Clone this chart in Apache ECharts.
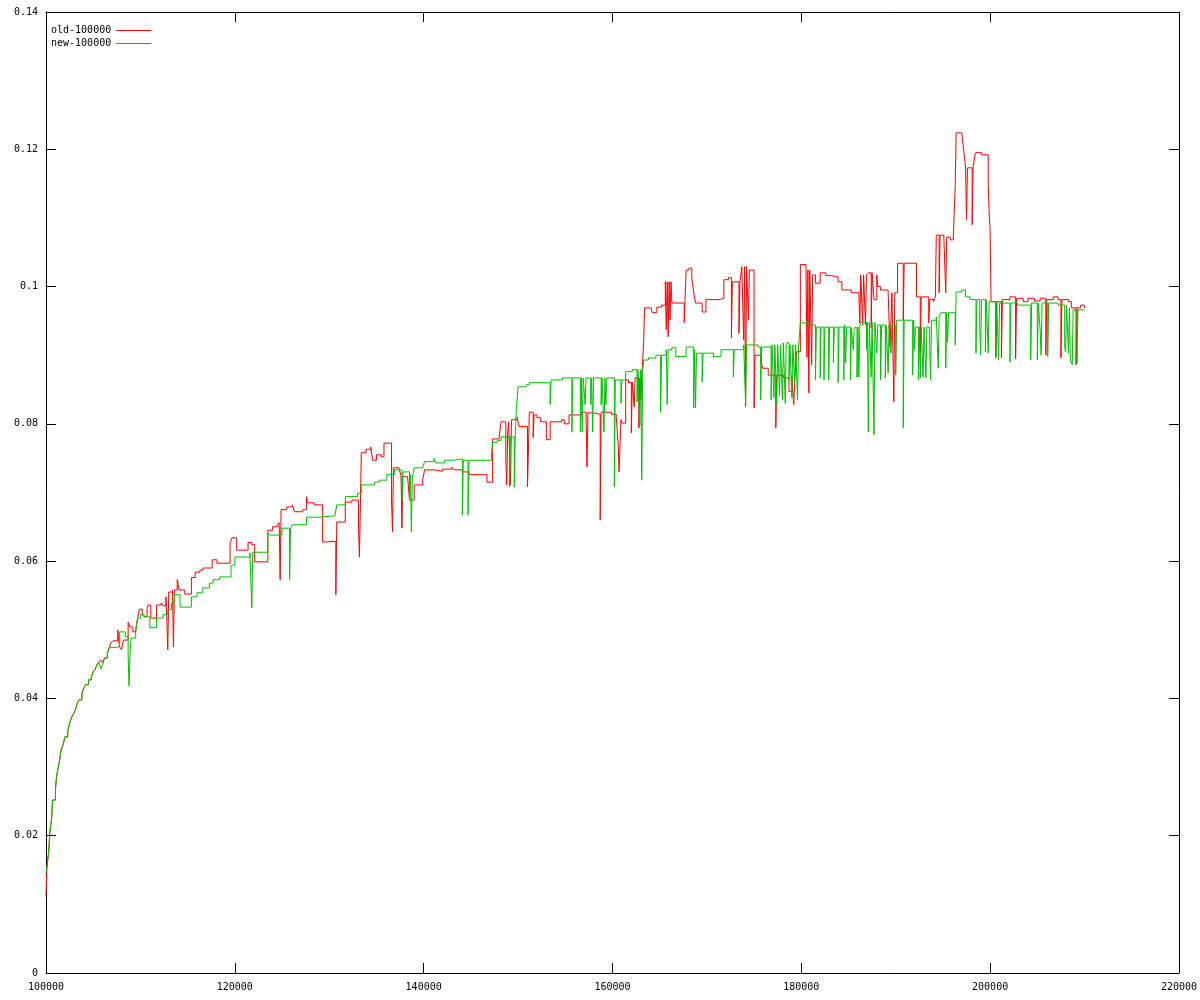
<!DOCTYPE html>
<html>
<head>
<meta charset="utf-8">
<script src="https://cdn.jsdelivr.net/npm/echarts@6/dist/echarts.min.js"></script>
<style>
  html, body { margin: 0; padding: 0; background: #ffffff; }
  #chart { width: 1200px; height: 1000px; }
</style>
</head>
<body>
<div id="chart"></div>
<script>
// ---- data (x, value from x onward) ----
const seriesNames = ['old-100000', 'new-100000'];
const xTickLabels = ['100000', '120000', '140000', '160000', '180000', '200000', '220000'];
const yTickLabels = ['0', '0.02', '0.04', '0.06', '0.08', '0.1', '0.12', '0.14'];

const oldValues = [
  [100000,0.0111],[100100,0.0154],[100300,0.0179],[100400,0.0204],[100600,0.0226],[100700,0.0252],
  [101000,0.0267],[101100,0.0284],[101200,0.0293],[101400,0.0306],[101600,0.0325],[101800,0.0332],
  [102000,0.0344],[102300,0.0351],[102500,0.0364],[102700,0.0372],[102900,0.0377],[103100,0.0383],
  [103300,0.0393],[103500,0.0398],[103800,0.0407],[104000,0.0415],[104200,0.0420],[104500,0.0427],
  [104800,0.0431],[105000,0.0439],[105200,0.0442],[105400,0.0449],[105600,0.0453],[105800,0.0456],
  [106000,0.0452],[106200,0.0459],[106500,0.0466],[106700,0.0474],[106900,0.0481],[107100,0.0484],
  [107600,0.0500],[107700,0.0484],[107800,0.0475],[108000,0.0471],[108200,0.0485],[108700,0.0511],
  [108900,0.0504],[109200,0.0497],[109500,0.0500],[109700,0.0517],[109900,0.0530],[110200,0.0522],
  [110400,0.0519],[110700,0.0530],[110800,0.0536],[111100,0.0517],[111700,0.0536],[112200,0.0539],
  [112400,0.0535],[112700,0.0548],[112800,0.0514],[112900,0.0471],[113000,0.0555],[113400,0.0558],
  [113500,0.0475],[113600,0.0558],[113900,0.0573],[114100,0.0558],[114700,0.0552],[115400,0.0576],
  [115800,0.0584],[116300,0.0587],[116600,0.0590],[117600,0.0602],[118100,0.0597],[119500,0.0627],
  [119700,0.0634],[120200,0.0616],[121400,0.0627],[121800,0.0624],[122100,0.0599],[123500,0.0645],
  [124000,0.0650],[124500,0.0653],[124700,0.0656],[124800,0.0573],[124900,0.0675],[125500,0.0679],
  [126100,0.0682],[126300,0.0672],[127200,0.0675],[127600,0.0694],[127700,0.0685],[128400,0.0682],
  [129300,0.0628],[129800,0.0629],[130700,0.0551],[130800,0.0657],[131700,0.0686],[132400,0.0689],
  [133100,0.0648],[133200,0.0606],[133400,0.0758],[133900,0.0763],[134400,0.0766],[134600,0.0747],
  [135000,0.0755],[135500,0.0752],[135800,0.0772],[136600,0.0689],[136700,0.0643],[136800,0.0736],
  [137400,0.0733],[137600,0.0726],[137700,0.0648],[137800,0.0723],[138300,0.0721],[138500,0.0689],
  [139000,0.0711],[139900,0.0718],[140100,0.0733],[141100,0.0731],[142000,0.0734],[143000,0.0737],
  [143200,0.0733],[144100,0.0730],[144800,0.0726],[146700,0.0715],[147300,0.0778],[148000,0.0781],
  [148200,0.0803],[148700,0.0752],[148800,0.0711],[148900,0.0788],[149000,0.0803],[149200,0.0711],
  [149300,0.0806],[149900,0.0810],[150100,0.0796],[151000,0.0708],[151200,0.0817],[151600,0.0780],
  [151700,0.0813],[152000,0.0809],[152400,0.0803],[153000,0.0777],[153400,0.0803],[154600,0.0806],
  [154900,0.0800],[155400,0.0813],[156700,0.0817],[157200,0.0813],[157300,0.0737],[157400,0.0816],
  [158000,0.0814],[158700,0.0660],[158800,0.0817],[159900,0.0814],[160400,0.0810],[160600,0.0772],
  [160700,0.0730],[160900,0.0806],[161000,0.0801],[161400,0.0864],[161700,0.0860],[162000,0.0787],
  [162100,0.0861],[162300,0.0825],[162400,0.0867],[162800,0.0794],[162900,0.0867],[163000,0.0835],
  [163100,0.0867],[163300,0.0918],[163400,0.0969],[164100,0.0970],[164200,0.0962],[164700,0.0970],
  [165200,0.0973],[165600,0.1007],[165700,0.0937],[165800,0.1007],[165900,0.0927],[166000,0.1007],
  [166100,0.0951],[166200,0.1007],[166300,0.0976],[167600,0.0947],[167800,0.1024],[168100,0.1027],
  [168400,0.1013],[168600,0.0992],[168800,0.0976],[169500,0.0963],[169900,0.0981],[171300,0.0983],
  [171800,0.1010],[172300,0.1013],[172600,0.0925],[172700,0.1007],[173400,0.0932],[173500,0.1007],
  [173700,0.1029],[173900,0.0922],[174000,0.1029],[174100,0.0825],[174200,0.1029],[174400,0.0951],
  [174500,0.1024],[175000,0.0823],[175100,0.0900],[175700,0.0893],[175900,0.0881],[176500,0.0871],
  [177300,0.0794],[177400,0.0871],[178100,0.0867],[178700,0.0847],[179000,0.0870],[179200,0.0828],
  [179300,0.0864],[179500,0.0905],[179900,0.1032],[180500,0.1024],[180600,0.0897],[180700,0.1024],
  [180800,0.0845],[180900,0.1024],[181100,0.0886],[181200,0.1017],[181500,0.1005],[182000,0.1020],
  [182600,0.1016],[183200,0.1014],[183900,0.1007],[184300,0.0995],[185300,0.0991],[186100,0.0988],
  [186200,0.0947],[186300,0.1017],[186500,0.0944],[186600,0.1017],[186800,0.0944],[186900,0.1017],
  [187100,0.1020],[187400,0.0940],[187500,0.1020],[187700,0.0981],[188000,0.1017],[188100,0.1000],
  [188400,0.0995],[189200,0.0991],[189300,0.0951],[189400,0.0912],[189600,0.0991],[189800,0.0832],
  [189900,0.0991],[190200,0.1034],[190800,0.0951],[190900,0.1034],[192200,0.0985],[192600,0.0903],
  [192700,0.0985],[193500,0.0947],[193600,0.0981],[194000,0.0978],[194200,0.0985],[194300,0.1075],
  [194600,0.0991],[194700,0.1075],[195100,0.1072],[195300,0.0991],[195400,0.1072],[195800,0.1068],
  [196100,0.1072],[196300,0.1144],[196400,0.1224],[197000,0.1225],[197200,0.1199],[197400,0.1174],
  [197500,0.1097],[197600,0.1173],[198100,0.1090],[198200,0.1174],[198400,0.1192],[198500,0.1195],
  [199100,0.1192],[199800,0.1151],[199900,0.1107],[200000,0.1083],[200100,0.0978],[200600,0.0897],
  [200700,0.0978],[201200,0.0896],[201300,0.0981],[202100,0.0985],[202700,0.0895],[202800,0.0983],
  [203500,0.0978],[204000,0.0983],[204700,0.0979],[205300,0.0983],[205900,0.0900],[206000,0.0981],
  [206700,0.0985],[207200,0.0981],[207500,0.0896],[207600,0.0981],[208300,0.0978],[208600,0.0969],
  [209100,0.0886],[209200,0.0969],[209600,0.0973],[210000,0.0969]
];

const newValues = [
  [100000,0.0146],[100100,0.0154],[100300,0.0179],[100400,0.0204],[100600,0.0226],[100700,0.0252],
  [101000,0.0267],[101100,0.0284],[101200,0.0293],[101400,0.0306],[101600,0.0325],[101800,0.0332],
  [102000,0.0344],[102300,0.0351],[102500,0.0364],[102700,0.0372],[102900,0.0377],[103100,0.0383],
  [103300,0.0393],[103500,0.0398],[103800,0.0407],[104000,0.0415],[104200,0.0420],[104500,0.0427],
  [104800,0.0431],[105000,0.0439],[105200,0.0442],[105400,0.0449],[105600,0.0453],[105800,0.0443],
  [106000,0.0449],[106200,0.0459],[106500,0.0466],[106700,0.0474],[107000,0.0475],[107800,0.0497],
  [108400,0.0490],[108700,0.0463],[108800,0.0418],[108900,0.0463],[109000,0.0488],[109500,0.0497],
  [109700,0.0517],[110000,0.0522],[110400,0.0519],[111000,0.0503],[111700,0.0517],[112400,0.0522],
  [112900,0.0529],[113300,0.0539],[113600,0.0551],[114200,0.0533],[115400,0.0548],[116000,0.0554],
  [116600,0.0561],[117300,0.0568],[117700,0.0573],[118400,0.0577],[119600,0.0594],[120000,0.0606],
  [121600,0.0612],[121800,0.0532],[121900,0.0613],[123500,0.0641],[123700,0.0638],[125000,0.0648],
  [125800,0.0573],[125900,0.0648],[126100,0.0653],[127600,0.0664],[129000,0.0666],[130600,0.0667],
  [130800,0.0682],[131700,0.0694],[133000,0.0699],[133400,0.0711],[134800,0.0715],[135300,0.0718],
  [136100,0.0726],[136900,0.0733],[137700,0.0689],[137800,0.0730],[138500,0.0689],[138600,0.0726],
  [138700,0.0643],[138800,0.0721],[139000,0.0736],[139900,0.0737],[140100,0.0745],[141100,0.0750],
  [141300,0.0743],[142200,0.0747],[143200,0.0749],[144100,0.0667],[144200,0.0747],[144700,0.0667],
  [144800,0.0747],[147200,0.0758],[147300,0.0773],[147800,0.0776],[148200,0.0781],[149100,0.0708],
  [149200,0.0781],[149600,0.0708],[149700,0.0781],[149800,0.0816],[150000,0.0854],[150900,0.0857],
  [151200,0.0860],[153400,0.0828],[153500,0.0864],[154700,0.0867],[155700,0.0788],[155800,0.0867],
  [156600,0.0788],[156700,0.0867],[156800,0.0788],[156900,0.0867],[157100,0.0828],[157200,0.0867],
  [157700,0.0828],[157800,0.0867],[157900,0.0788],[158000,0.0867],[158800,0.0828],[158900,0.0867],
  [159100,0.0788],[159200,0.0867],[159300,0.0828],[159400,0.0867],[160200,0.0708],[160300,0.0864],
  [160900,0.0830],[161000,0.0864],[161400,0.0876],[162100,0.0879],[162600,0.0832],[162700,0.0879],
  [162900,0.0798],[163000,0.0879],[163100,0.0718],[163200,0.0876],[163300,0.0893],[163800,0.0896],
  [164600,0.0900],[165100,0.0817],[165200,0.0900],[165700,0.0908],[165800,0.0828],[165900,0.0908],
  [166300,0.0911],[166700,0.0898],[167800,0.0912],[168600,0.0823],[168700,0.0908],[168800,0.0823],
  [168900,0.0903],[169500,0.0861],[169600,0.0903],[170700,0.0898],[171500,0.0908],[172800,0.0868],
  [172900,0.0908],[173900,0.0915],[174100,0.0830],[174200,0.0915],[175400,0.0912],[175700,0.0835],
  [175800,0.0912],[176800,0.0835],[176900,0.0915],[177100,0.0838],[177200,0.0915],[177400,0.0828],
  [177500,0.0915],[177700,0.0841],[177800,0.0915],[178000,0.0835],[178100,0.0918],[178300,0.0830],
  [178400,0.0918],[178700,0.0864],[178800,0.0915],[179000,0.0838],[179100,0.0915],[179300,0.0861],
  [179400,0.0915],[179600,0.0835],[179700,0.0911],[179900,0.0947],[180800,0.0944],[181500,0.0864],
  [181600,0.0941],[182000,0.0867],[182100,0.0941],[182400,0.0864],[182500,0.0941],[182900,0.0864],
  [183000,0.0941],[183400,0.0889],[183500,0.0941],[183900,0.0860],[184000,0.0941],[184500,0.0864],
  [184600,0.0944],[184700,0.0889],[184800,0.0941],[185200,0.0864],[185300,0.0940],[185500,0.0908],
  [185600,0.0940],[185900,0.0868],[186000,0.0941],[186100,0.0868],[186200,0.0941],[186300,0.0948],
  [186900,0.0908],[187000,0.0948],[187100,0.0788],[187200,0.0948],[187400,0.0868],[187500,0.0948],
  [187700,0.0784],[187800,0.0948],[188000,0.0903],[188100,0.0944],[188400,0.0864],[188500,0.0944],
  [188900,0.0867],[189000,0.0944],[189200,0.0874],[189300,0.0944],[189500,0.0903],[189600,0.0944],
  [190000,0.0871],[190100,0.0951],[190800,0.0794],[190900,0.0951],[191800,0.0871],[191900,0.0951],
  [192000,0.0908],[192100,0.0941],[192400,0.0864],[192500,0.0941],[192600,0.0867],[192700,0.0941],
  [192900,0.0868],[193000,0.0941],[193200,0.0867],[193300,0.0941],[193600,0.0908],[193700,0.0864],
  [193800,0.0951],[194300,0.0956],[194500,0.0881],[194600,0.0956],[194800,0.0962],[195300,0.0881],
  [195400,0.0962],[195500,0.0919],[195600,0.0962],[196300,0.0915],[196400,0.0992],[197000,0.0995],
  [197400,0.0985],[197900,0.0981],[198500,0.0903],[198600,0.0981],[198900,0.0940],[199000,0.0900],
  [199100,0.0981],[199500,0.0905],[199600,0.0981],[199800,0.0903],[199900,0.0978],[200600,0.0896],
  [200700,0.0978],[200900,0.0893],[201000,0.0976],[202100,0.0890],[202200,0.0976],[202900,0.0973],
  [204300,0.0893],[204400,0.0976],[205000,0.0893],[205100,0.0976],[205300,0.0937],[205400,0.0900],
  [205500,0.0976],[206100,0.0898],[206200,0.0976],[207200,0.0973],[207900,0.0911],[208000,0.0905],
  [208100,0.0973],[208300,0.0903],[208400,0.0969],[208500,0.0893],[208700,0.0886],[208800,0.0966],
  [209200,0.0888],[209300,0.0966],[210000,0.0966]
];

// ---- chart ----
const chart = echarts.init(document.getElementById('chart'), null, { renderer: 'canvas' });
const FONT = 'DejaVu Sans Mono';
const axisLineStyle = { color: '#000000', width: 1 };

function xAxisDef(pos, showLabel) {
  return {
    type: 'value', position: pos, min: 100000, max: 220000, interval: 20000,
    axisLine: { show: true, onZero: false, lineStyle: axisLineStyle },
    axisTick: { show: true, inside: true, length: 10, lineStyle: axisLineStyle },
    axisLabel: {
      show: showLabel, color: '#000000', fontFamily: FONT, fontSize: 10, margin: 9,
      formatter: v => xTickLabels[Math.round((v - 100000) / 20000)]
    },
    splitLine: { show: false }
  };
}
function yAxisDef(pos, showLabel) {
  return {
    type: 'value', position: pos, min: 0, max: 0.14, interval: 0.02,
    axisLine: { show: true, onZero: false, lineStyle: axisLineStyle },
    axisTick: { show: true, inside: true, length: 10, lineStyle: axisLineStyle },
    axisLabel: {
      show: showLabel, color: '#000000', fontFamily: FONT, fontSize: 10, margin: 8,
      formatter: v => yTickLabels[Math.round(v / 0.02)]
    },
    splitLine: { show: false }
  };
}

chart.setOption({
  animation: false,
  backgroundColor: '#ffffff',
  grid: { left: 46, right: 19, top: 12, bottom: 27, containLabel: false },
  xAxis: [xAxisDef('bottom', true), xAxisDef('top', false)],
  yAxis: [yAxisDef('left', true), yAxisDef('right', false)],
  legend: {
    orient: 'vertical', left: 51, top: 24, padding: 0, align: 'right',
    icon: 'rect', itemWidth: 35, itemHeight: 1, itemGap: 0,
    textStyle: { color: '#000000', fontFamily: FONT, fontSize: 10, lineHeight: 13 },
    data: seriesNames
  },
  series: [
    {
      name: seriesNames[0], type: 'line', step: 'end', data: oldValues,
      xAxisIndex: 0, yAxisIndex: 0, symbol: 'none', showSymbol: false,
      lineStyle: { color: '#ff0000', width: 1 }, itemStyle: { color: '#ff0000' },
      z: 2
    },
    {
      name: seriesNames[1], type: 'line', step: 'end', data: newValues,
      xAxisIndex: 0, yAxisIndex: 0, symbol: 'none', showSymbol: false,
      lineStyle: { color: '#00c000', width: 1 }, itemStyle: { color: '#00c000' },
      z: 3
    }
  ]
});
</script>
</body>
</html>
